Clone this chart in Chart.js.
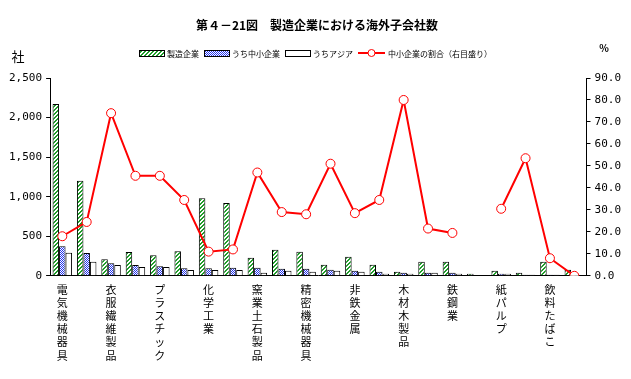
<!DOCTYPE html>
<html lang="ja">
<head>
  <meta charset="UTF-8" />
  <title>第４－21図　製造企業における海外子会社数</title>
  <script src="https://cdn.jsdelivr.net/npm/chart.js"></script>
  <style>
    html, body { margin: 0; padding: 0; background: #fff; }
    #wrap { width: 631px; height: 379px; }
  </style>
</head>
<body>
<div id="wrap"><canvas id="subsidChart" width="631" height="379"></canvas></div>

<script>
// categories (only every other one is labelled in the original)
const categories = [
  '電気機械器具', '', '衣服繊維製品', '', 'プラスチック', '', '化学工業', '',
  '窯業土石製品', '', '精密機械器具', '', '非鉄金属', '', '木材木製品', '',
  '鉄鋼業', '', '紙パルプ', '', '飲料たばこ', ''
];
// 製造企業
const totalCounts = [2170, 1200, 210, 300, 260, 310, 980, 920, 227, 328, 303, 139, 240, 139, 50, 177, 177, 25, 63, 38, 177, 76];
// うち中小企業
const smeCounts   = [375, 287, 160, 135, 122, 97, 97, 101, 101, 88, 88, 76, 63, 50, 38, 38, 38, 0, 25, 13, 13, 0];
// うちアジア
const asiaCounts  = [290, 177, 135, 110, 110, 72, 72, 72, 38, 63, 50, 63, 50, 25, 25, 38, 25, 0, 25, 13, 13, 0];
// 中小企業の割合（右目盛り）
const smeRatio    = [18, 24.5, 74, 45.5, 45.5, 34.5, 11, 12, 47, 29, 28, 51, 28.5, 34.5, 80, 21.5, 19.5, null, 30.5, 53.5, 8, 0];

const leftTicks = { max: 2500, step: 500 };
const rightTicks = { max: 90, step: 10 };

const jpFont = '"Noto Sans CJK JP", "Noto Sans", sans-serif';
const monoFont = '"DejaVu Sans Mono", "Liberation Mono", monospace';

// fill patterns
function makePattern(draw, size) {
  const c = document.createElement('canvas');
  c.width = size; c.height = size;
  const g = c.getContext('2d');
  g.fillStyle = '#fff';
  g.fillRect(0, 0, size, size);
  draw(g);
  return g.createPattern(c, 'repeat');
}
const ctx = document.getElementById('subsidChart').getContext('2d');
const greenHatch = makePattern(g => {
  g.fillStyle = '#1f9e2a';
  for (let i = 0; i < 4; i++) {
    g.fillRect(i, 3 - i, 1, 1);
    g.fillRect(i, (4 - i) % 4, 1, 1);
  }
}, 4);
const blueCheck = makePattern(g => {
  g.fillStyle = '#2233ee';
  g.fillRect(0, 0, 1, 1);
  g.fillRect(1, 1, 1, 1);
}, 2);

// title, units and legend are drawn by hand to match the original layout
const decorations = {
  id: 'decorations',
  afterDraw(chart) {
    const c = chart.ctx;
    c.save();
    c.fillStyle = '#000';
    c.textBaseline = 'middle';
    c.textAlign = 'center';
    c.font = 'bold 12px ' + jpFont;
    c.fillText('第４－21図　製造企業における海外子会社数', 317, 25);

    c.font = '13px ' + jpFont;
    c.fillText('社', 18, 56);
    c.font = 'bold 10px ' + jpFont;
    c.fillText('%', 604, 48);

    c.textAlign = 'left';
    c.font = '8px ' + jpFont;
    const ly = 53;
    const items = [
      { x: 139, fill: greenHatch, text: '製造企業' },
      { x: 204, fill: blueCheck, text: 'うち中小企業' },
      { x: 285, fill: '#fff', text: 'うちアジア' }
    ];
    items.forEach(it => {
      c.fillStyle = it.fill;
      c.fillRect(it.x, ly - 3, 25, 6);
      c.strokeStyle = '#000';
      c.lineWidth = 1;
      c.strokeRect(it.x + 0.5, ly - 2.5, 25, 6);
      c.fillStyle = '#000';
      c.fillText(it.text, it.x + 28, ly + 0.5);
    });
    c.strokeStyle = '#ff0000';
    c.lineWidth = 2;
    c.beginPath();
    c.moveTo(358, ly); c.lineTo(385, ly);
    c.stroke();
    c.fillStyle = '#fff';
    c.lineWidth = 1;
    c.beginPath();
    c.arc(371.5, ly, 3.5, 0, Math.PI * 2);
    c.fill(); c.stroke();
    c.fillStyle = '#000';
    c.fillText('中小企業の割合（右目盛り）', 388, ly + 0.5);
    c.restore();
  }
};

const barBase = {
  type: 'bar',
  borderColor: '#000',
  borderWidth: 1,
  borderSkipped: 'bottom',
  categoryPercentage: 0.8,
  barPercentage: 1.0,
  yAxisID: 'y',
  order: 1
};

new Chart(ctx, {
  data: {
    labels: categories,
    datasets: [
      { ...barBase, label: '製造企業', data: totalCounts, backgroundColor: greenHatch },
      { ...barBase, label: 'うち中小企業', data: smeCounts, backgroundColor: blueCheck },
      { ...barBase, label: 'うちアジア', data: asiaCounts, backgroundColor: '#fff' },
      {
        type: 'line',
        label: '中小企業の割合（右目盛り）',
        data: smeRatio,
        yAxisID: 'y2',
        borderColor: '#ff0000',
        borderWidth: 2,
        pointRadius: 4.5,
        pointBorderWidth: 1,
        pointBackgroundColor: '#fff',
        pointBorderColor: '#ff0000',
        spanGaps: false,
        tension: 0,
        order: 0
      }
    ]
  },
  options: {
    responsive: false,
    animation: false,
    layout: { padding: { top: 78, left: 5, right: 6, bottom: 10 } },
    plugins: {
      legend: { display: false },
      tooltip: { enabled: false }
    },
    scales: {
      x: {
        offset: true,
        grid: { drawOnChartArea: false, drawTicks: false, offset: true },
        border: { display: true, color: '#000', width: 1 },
        ticks: {
          autoSkip: false,
          maxRotation: 0,
          minRotation: 0,
          padding: 7,
          color: '#000',
          font: { family: jpFont, size: 11, lineHeight: 1.2 },
          callback: (v, i) => categories[i] ? categories[i].split('') : ''
        }
      },
      y: {
        position: 'left',
        min: 0,
        max: leftTicks.max,
        grid: { drawOnChartArea: false, drawTicks: true, tickLength: 4, color: '#000' },
        border: { display: true, color: '#000', width: 1 },
        ticks: {
          stepSize: leftTicks.step,
          padding: 4,
          color: '#000',
          font: { family: monoFont, size: 11 },
          callback: v => v.toLocaleString('en-US')
        }
      },
      y2: {
        position: 'right',
        min: 0,
        max: rightTicks.max,
        grid: { drawOnChartArea: false, drawTicks: true, tickLength: 4, color: '#000' },
        border: { display: true, color: '#000', width: 1 },
        ticks: {
          stepSize: rightTicks.step,
          padding: 4,
          color: '#000',
          font: { family: monoFont, size: 11 },
          callback: v => v.toFixed(1)
        }
      }
    }
  },
  plugins: [decorations]
});
</script>
</body>
</html>
